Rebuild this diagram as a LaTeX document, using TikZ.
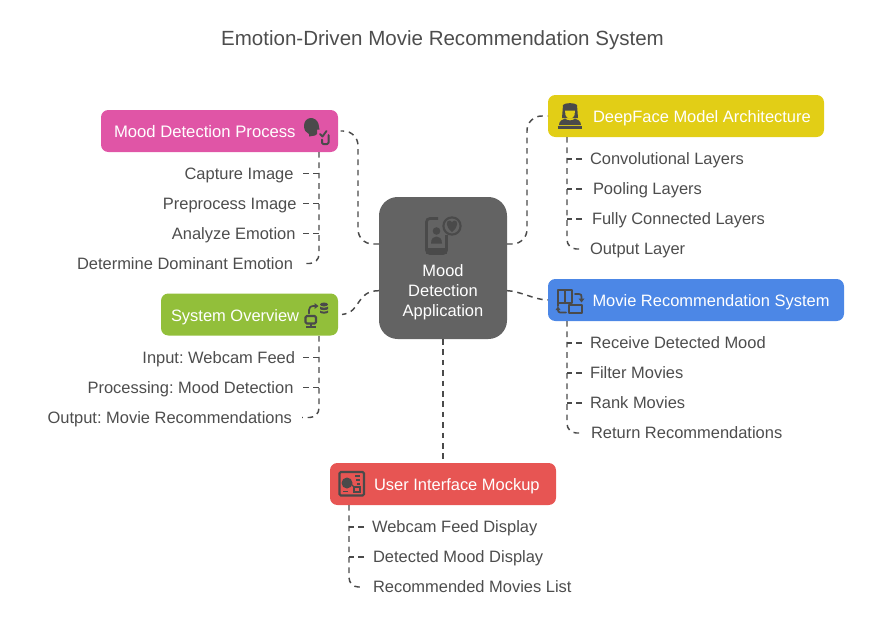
\documentclass[tikz,border=0pt]{standalone}
\usepackage{fontspec}
\setmainfont{Liberation Sans}
\definecolor{ink}{HTML}{4A4A4A}
\definecolor{txt}{HTML}{4D4D4D}
\definecolor{pinkbox}{HTML}{E055A6}
\definecolor{yellowbox}{HTML}{E2CE16}
\definecolor{bluebox}{HTML}{4C87E6}
\definecolor{greenbox}{HTML}{92BF3A}
\definecolor{redbox}{HTML}{E75553}
\definecolor{greybox}{HTML}{636363}
\tikzset{
  head/.style={rounded corners=5.5pt,inner sep=0,outer sep=0,minimum height=31.5pt,anchor=north west},
  item/.style={text=txt,inner sep=0,outer sep=0,font=\fontsize{12.35}{15}\selectfont\frenchspacing,text height=8.84pt,text depth=0pt},
  conn/.style={draw=ink,line width=1.1pt,dash pattern=on 4.2pt off 3.6pt,rounded corners=11pt},
  tree/.style={draw=ink,line width=1.1pt,dash pattern=on 4.2pt off 3.6pt,rounded corners=7pt},
  ico/.style={draw=ink,line width=1.1pt,line cap=round,line join=round},
}
\begin{document}
\begin{tikzpicture}[x=0.75pt,y=-0.75pt]
\useasboundingbox (0,0) rectangle (893,618);
\node[text=txt,inner sep=0,font=\fontsize{15.4}{18}\selectfont] (title) at (442.5,40) {Emotion-Driven Movie Recommendation System};
% boxes
\node[head,fill=pinkbox,minimum width=177.75pt] (mood) at (101,110) {};
\node[head,fill=yellowbox,minimum width=207pt] (deep) at (548,95) {};
\node[head,fill=bluebox,minimum width=222pt] (movie) at (548,279) {};
\node[head,fill=greenbox,minimum width=132.75pt] (sys) at (161,293.5) {};
\node[head,fill=redbox,minimum width=169.5pt] (ui) at (330,463) {};
\node[fill=greybox,rounded corners=14pt,inner sep=0,outer sep=0,minimum width=96pt,minimum height=106.5pt,anchor=north west] (center) at (379,197) {};
% head labels
\node[item,text=white,anchor=west] (moodt) at (114,131.5) {\fontsize{12.5}{15}\selectfont Mood Detection Process};
\node[item,text=white,anchor=west] (deept) at (593,116.5) {DeepFace Model Architecture};
\node[item,text=white,anchor=west] (moviet) at (592.5,300.5) {Movie Recommendation System};
\node[item,text=white,anchor=west] (syst) at (171,315.5) {System Overview};
\node[item,text=white,anchor=west] (uit) at (374,484.5) {User Interface Mockup};
\node[text=white,inner sep=0,outer sep=0,align=center,font=\fontsize{12.35}{15}\selectfont,yshift=-1.6pt] (centert) at (443,290.5) {Mood\\Detection\\Application};
% items
\node[item,anchor=east] (m1) at (293.5,173.5) {Capture Image};
\node[item,anchor=east] (m2) at (296.5,203.5) {Preprocess Image};
\node[item,anchor=east] (m3) at (295.5,233.5) {Analyze Emotion};
\node[item,anchor=east] (m4) at (293,263.5) {Determine Dominant Emotion};
\node[item,anchor=east] (s1) at (295,357.5) {Input: Webcam Feed};
\node[item,anchor=east] (s2) at (293.5,387.5) {Processing: Mood Detection};
\node[item,anchor=east] (s3) at (292,417.5) {Output: Movie Recommendations};
\node[item,anchor=west] (d1) at (590,159) {Convolutional Layers};
\node[item,anchor=west] (d2) at (593,189) {Pooling Layers};
\node[item,anchor=west] (d3) at (592,219) {Fully Connected Layers};
\node[item,anchor=west] (d4) at (590,249) {Output Layer};
\node[item,anchor=west] (r1) at (590,343) {Receive Detected Mood};
\node[item,anchor=west] (r2) at (590,373) {Filter Movies};
\node[item,anchor=west] (r3) at (590,403) {Rank Movies};
\node[item,anchor=west] (r4) at (591,433) {Return Recommendations};
\node[item,anchor=west] (u1) at (372,527) {Webcam Feed Display};
\node[item,anchor=west] (u2) at (373,557) {Detected Mood Display};
\node[item,anchor=west] (u3) at (373,587) {Recommended Movies List};
% centre connectors
\draw[conn] ([yshift=18pt]center.west) -| (358,195) |- ([xshift=2pt]mood.east);
\draw[conn,rounded corners=0pt] ([yshift=-17pt]center.west) .. controls (355,291) and (362,312) .. ([xshift=3pt]sys.east);
\draw[conn] ([yshift=18pt]center.east) -| (527,180) |- (deep.west);
\draw[conn,rounded corners=0pt] ([yshift=-17pt]center.east) .. controls (520,291) and (535,300) .. (movie.west);
\draw[conn] (center.south) -- (ui.north -| center.south);
% trees
\coordinate (mt) at (319,152);
\draw[tree] (mt) |- ([xshift=7.5pt]m4.east);
\foreach \n in {m1,m2,m3} \draw[tree,rounded corners=0pt] (303,0 |- \n.east) -- (\n.east -| mt);
\coordinate (st) at (319,336);
\draw[tree] (st) |- ([xshift=7.5pt]s3.east);
\foreach \n in {s1,s2} \draw[tree,rounded corners=0pt] (303,0 |- \n.east) -- (\n.east -| st);
\coordinate (dt) at (567,137);
\draw[tree] (dt) |- (582,0 |- d4.west);
\foreach \n in {d1,d2,d3} \draw[tree,rounded corners=0pt] (582,0 |- \n.west) -- (\n.west -| dt);
\coordinate (rt) at (567,321);
\draw[tree] (rt) |- (582,0 |- r4.west);
\foreach \n in {r1,r2,r3} \draw[tree,rounded corners=0pt] (582,0 |- \n.west) -- (\n.west -| rt);
\coordinate (ut) at (349,505);
\draw[tree] (ut) |- (364,0 |- u3.west);
\foreach \n in {u1,u2} \draw[tree,rounded corners=0pt] (364,0 |- \n.west) -- (\n.west -| ut);
% centre icon
\draw[ink,line width=2pt,rounded corners=2.5pt] (438,218.5) -- (426.5,218.5) -- (426.5,253.5) -- (446.5,253.5) -- (446.5,235);
\fill[ink] (426,248) rectangle (447,254);
\draw[ink,line width=1.6pt] (452,226) circle (8.6);
\fill[ink] (452,232) .. controls (445,226.5) and (446,220.5) .. (449.5,220.5) .. controls (450.7,220.5) and (452,222) .. (452,222.5) .. controls (452,222) and (453.3,220.5) .. (454.5,220.5) .. controls (458,220.5) and (459,226.5) .. (452,232) -- cycle;
\fill[ink] (436.5,231) circle (3.8);
\fill[ink] (431,243.5) .. controls (431,238) and (434,236.5) .. (436.5,236.5) .. controls (439,236.5) and (442,238) .. (442,243.5) -- cycle;
% mood icon
\fill[ink] (304,126) .. controls (304,116) and (316,115.5) .. (318.5,124) -- (319.5,129.5) -- (317,129.5) -- (317,134) -- (315,135.5) -- (309,136.5) -- (309,134) .. controls (306,133) and (304,130) .. (304,126) -- cycle;
\draw[ico,line width=1.4pt] (320,134) -- (322.5,136.5) -- (326.5,131);
\draw[ico,line width=1.5pt,rounded corners=1pt] (322,139.5) -- (322,144) -- (328.5,144) -- (328.5,135);
% deepface icon
\fill[ink] (563,105) .. controls (565,102.5) and (575,102.5) .. (577,105) -- (578,118) -- (562,118) -- cycle;
\fill[yellowbox] (565,110.5) -- (575,110.5) -- (574.5,115) .. controls (574,119.5) and (566,119.5) .. (565.5,115) -- cycle;
\fill[ink] (559,125) .. controls (559,120.5) and (563,119.5) .. (565,118.5) .. controls (567,121) and (573,121) .. (575,118.5) .. controls (577,119.5) and (581,120.5) .. (581,125) -- cycle;
\draw[ink,line width=1.6pt] (557.5,127.5) -- (582,127.5);
% movie icon
\draw[ico,line width=1.5pt] (558,290) rectangle (572,303);
\draw[ico,line width=1.5pt] (565,290) -- (565,303);
\draw[ico,line width=1.5pt] (558,303) -- (558,306);
\draw[ico,line width=1.5pt] (569,305) rectangle (582,312.5);
\draw[ico,line width=1.3pt] (575,294) -- (579,294) .. controls (581,294) and (581.5,295) .. (581.5,297) -- (581.5,299);
\fill[ink] (578.5,298.5) -- (584.5,298.5) -- (581.5,302.5) -- cycle;
\draw[ico,line width=1.3pt] (566,312.5) -- (560,312.5) .. controls (558.5,312.5) and (558,311) .. (558,310);
\fill[ink] (555.5,310) -- (560.5,310) -- (558,306.5) -- cycle;
% system icon
\draw[ico,line width=1.6pt,rounded corners=1pt] (305.5,316) rectangle (316,323.5);
\draw[ink,line width=1.5pt] (310.7,323.5) -- (310.7,327);
\draw[ink,line width=1.5pt] (306,327.3) -- (315.5,327.3);
\draw[ico,line width=1.3pt] (309,313.5) -- (309,310) .. controls (309,307) and (311,306) .. (313,306) -- (315,306);
\fill[ink] (314.5,303) -- (318.5,306) -- (314.5,309) -- cycle;
\fill[ink] (324,304.5) ellipse (4 and 2);
\fill[ink] (320,306.5) .. controls (321,308) and (327,308) .. (328,306.5) -- (328,309) .. controls (327,310.5) and (321,310.5) .. (320,309) -- cycle;
\fill[ink] (320,310.5) .. controls (321,312) and (327,312) .. (328,310.5) -- (328,312.5) .. controls (327,314) and (321,314) .. (320,312.5) -- cycle;
% ui icon
\draw[ink,line width=1.6pt,rounded corners=1pt] (339.5,472) rectangle (364,495.5);
\fill[ink] (347,483) circle (5.5);
\draw[ink,line width=1pt] (343,491.5) -- (348,491.5) (355,476) -- (360,476) (356,480) -- (360,480) (357,484) -- (360,484);
\draw[ink,line width=1.1pt] (354,487) rectangle (360,492);
\draw[ink,line width=1pt] (351,484) -- (354,487);
\end{tikzpicture}
\end{document}
